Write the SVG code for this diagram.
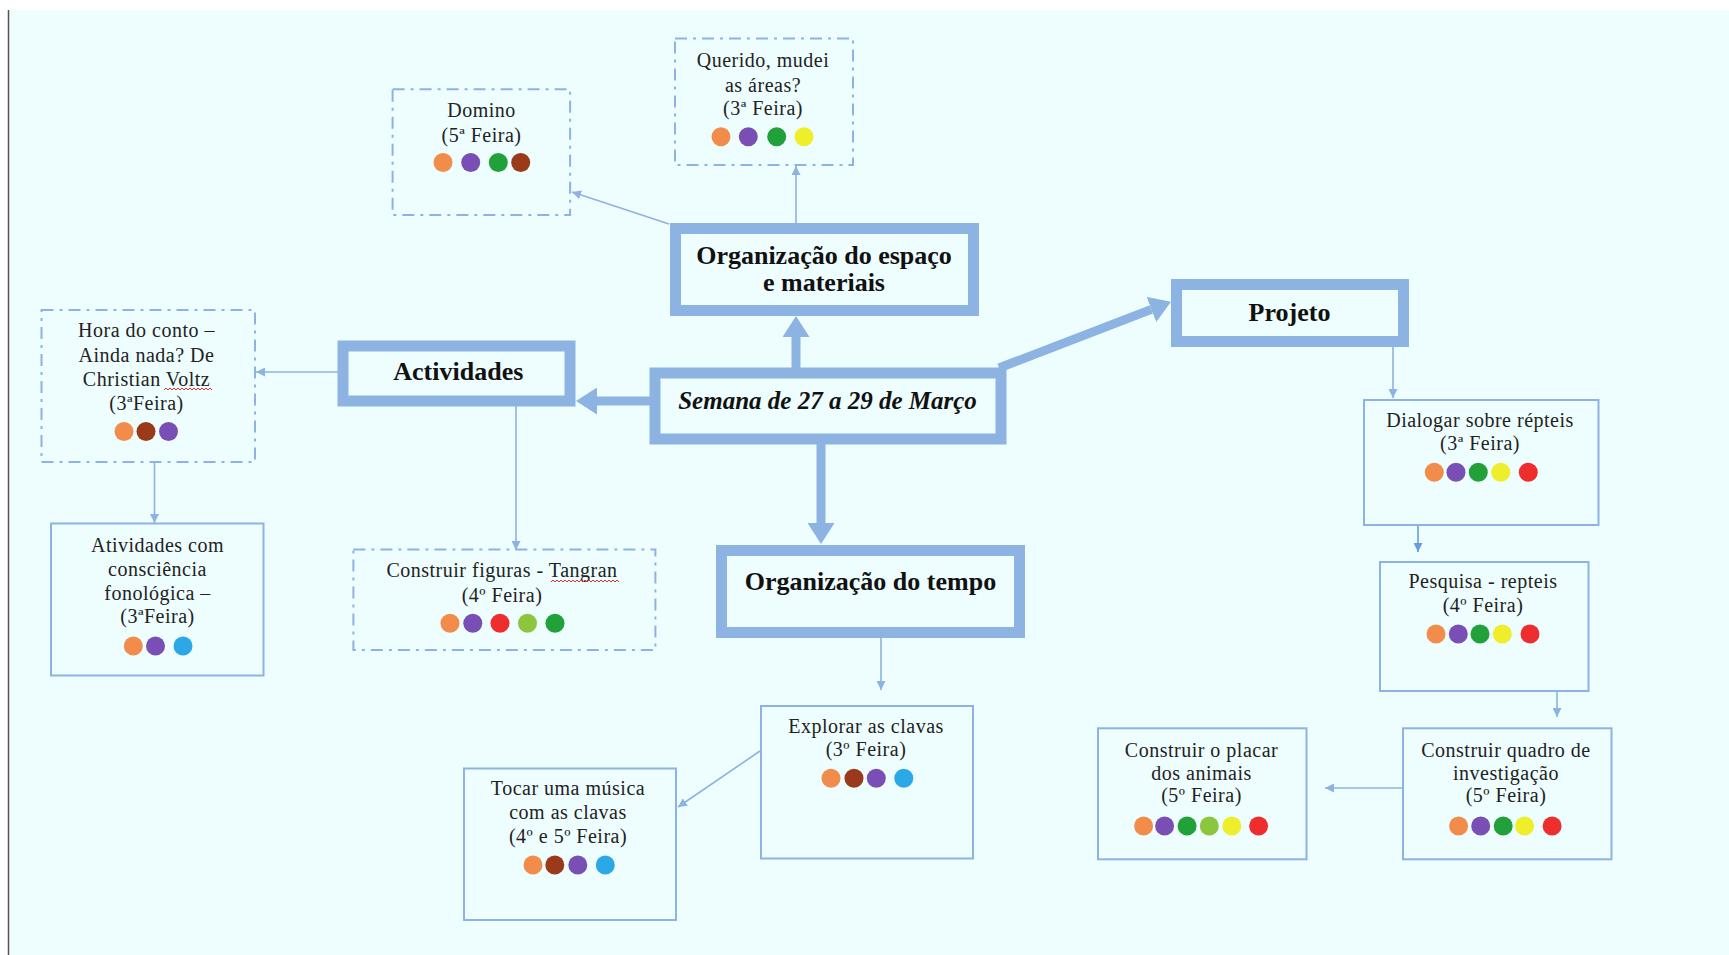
<svg xmlns="http://www.w3.org/2000/svg" width="1729" height="955" viewBox="0 0 1729 955">
<defs>
<style>
.t{font-family:"Liberation Serif","Times New Roman",serif;font-size:20px;fill:#222;text-anchor:middle;letter-spacing:0.5px}
.b{font-family:"Liberation Serif","Times New Roman",serif;font-size:26px;font-weight:bold;fill:#111;text-anchor:middle}
.bi{font-style:italic;font-size:25px}
.thick{fill:none;stroke:#8DB3E2;stroke-width:11}
.dd{fill:none;stroke:#8DB3E2;stroke-width:2;stroke-dasharray:12 6 3 6}
.sol{fill:none;stroke:#8DB3E2;stroke-width:2}
.cn{fill:none;stroke:#8DB3E2;stroke-width:1.6}
.ck{fill:none;stroke:#8DB3E2;stroke-width:9}
.sq{fill:none;stroke:#E03030;stroke-width:1}
.o{fill:#F28C4A}.p{fill:#7A4FB5}.g{fill:#22A03A}.br{fill:#9A3A1A}.y{fill:#EEEE2A}.r{fill:#EE2E2E}.lg{fill:#8CC63F}.bl{fill:#2AA9E6}
</style>
<marker id="ah" viewBox="0 0 10 10" refX="10" refY="5" markerWidth="9" markerHeight="9" markerUnits="userSpaceOnUse" orient="auto"><path d="M0,0 L10,5 L0,10 z" fill="#8DB3E2"/></marker>
<marker id="ahd" viewBox="0 0 10 10" refX="10" refY="5" markerWidth="9" markerHeight="9" markerUnits="userSpaceOnUse" orient="auto"><path d="M0,0 L10,5 L0,10 z" fill="#6A9BDB"/></marker>
<marker id="big" viewBox="0 0 10 10" refX="0" refY="5" markerWidth="21" markerHeight="27" markerUnits="userSpaceOnUse" orient="auto" preserveAspectRatio="none"><path d="M0,0 L10,5 L0,10 z" fill="#8DB3E2"/></marker>
</defs>
<rect x="0" y="0" width="1729" height="955" fill="#ffffff"/>
<rect x="9" y="10" width="1720" height="945" fill="#EEFDFE"/>
<line x1="8.5" y1="10" x2="8.5" y2="955" stroke="#555" stroke-width="1.5"/>

<g id="connectors">
<line class="ck" x1="796" y1="368" x2="796" y2="337" marker-end="url(#big)"/>
<line class="ck" x1="650" y1="401" x2="597" y2="401" marker-end="url(#big)"/>
<line class="ck" x1="821" y1="444" x2="821" y2="523" marker-end="url(#big)"/>
<line class="ck" x1="999" y1="368" x2="1151.4" y2="309.4" marker-end="url(#big)"/>
<line class="cn" x1="669" y1="224" x2="572" y2="192" marker-end="url(#ah)"/>
<line class="cn" x1="796" y1="223" x2="796" y2="166" marker-end="url(#ah)"/>
<line class="cn" x1="338" y1="372" x2="256" y2="372" marker-end="url(#ah)"/>
<line class="cn" x1="154.5" y1="462" x2="154.5" y2="523" marker-end="url(#ah)"/>
<line class="cn" x1="516" y1="406" x2="516" y2="550" marker-end="url(#ah)"/>
<line class="cn" x1="881" y1="638" x2="881" y2="690" marker-end="url(#ah)"/>
<line class="cn" x1="760" y1="751" x2="678" y2="807" marker-end="url(#ah)"/>
<line class="cn" x1="1393" y1="347" x2="1393" y2="398" marker-end="url(#ah)"/>
<line x1="1418" y1="525" x2="1418" y2="552" stroke="#6A9BDB" stroke-width="1.6" marker-end="url(#ahd)"/>
<line class="cn" x1="1557" y1="691" x2="1557" y2="717" marker-end="url(#ah)"/>
<line class="cn" x1="1403" y1="788" x2="1325" y2="788" marker-end="url(#ah)"/>
</g>

<g id="semana">
<rect class="thick" x="655" y="373" width="346" height="66" stroke-width="12"/>
<text class="b bi" x="827.5" y="409.3">Semana de 27 a 29 de Março</text>
</g>

<g id="org-espaco">
<rect class="thick" x="675.5" y="228.5" width="298" height="82"/>
<text class="b" x="824" y="264.3">Organização do espaço</text>
<text class="b" x="824" y="291">e materiais</text>
</g>

<g id="actividades">
<rect class="thick" x="343" y="346" width="227" height="55"/>
<text class="b" x="458.3" y="380">Actividades</text>
</g>

<g id="projeto">
<rect class="thick" x="1176.5" y="284.5" width="227" height="57"/>
<text class="b" x="1289.5" y="320.7">Projeto</text>
</g>

<g id="org-tempo">
<rect class="thick" x="721.5" y="550.5" width="298" height="82"/>
<text class="b" x="870.5" y="590">Organização do tempo</text>
</g>

<g id="domino">
<rect class="dd" x="392.6" y="89.3" width="177.5" height="125.7"/>
<text class="t" x="481.5" y="117">Domino</text>
<text class="t" x="481.5" y="141.5">(5ª Feira)</text>
<circle class="o" cx="443" cy="162.5" r="9.5"/><circle class="p" cx="470.7" cy="162.5" r="9.5"/><circle class="g" cx="498.3" cy="162.5" r="9.5"/><circle class="br" cx="520.7" cy="162.5" r="9.5"/>
</g>

<g id="querido">
<rect class="dd" x="675" y="38.5" width="178" height="126.5"/>
<text class="t" x="763" y="66.7">Querido, mudei</text>
<text class="t" x="763" y="91.5">as áreas?</text>
<text class="t" x="763" y="115">(3ª Feira)</text>
<circle class="o" cx="721" cy="136.7" r="9.5"/><circle class="p" cx="748.3" cy="136.7" r="9.5"/><circle class="g" cx="776.7" cy="136.7" r="9.5"/><circle class="y" cx="804" cy="136.7" r="9.5"/>
</g>

<g id="hora-conto">
<rect class="dd" x="41.5" y="310" width="213.5" height="152"/>
<text class="t" x="146.5" y="337.3">Hora do conto –</text>
<text class="t" x="146.5" y="361.7">Ainda nada? De</text>
<text class="t" x="146.5" y="385.5">Christian Voltz</text>
<polyline class="sq" points="164,390 166,388 168,390 170,388 172,390 174,388 176,390 178,388 180,390 182,388 184,390 186,388 188,390 190,388 192,390 194,388 196,390 198,388 200,390 202,388 204,390 206,388 208,390 210,388 212,390"/>
<text class="t" x="146.5" y="410">(3ªFeira)</text>
<circle class="o" cx="124" cy="431.5" r="9.5"/><circle class="br" cx="146" cy="431.5" r="9.5"/><circle class="p" cx="168.5" cy="431.5" r="9.5"/>
</g>

<g id="atividades-consciencia">
<rect class="sol" x="51" y="523.5" width="212.5" height="152"/>
<text class="t" x="157.5" y="551.7">Atividades com</text>
<text class="t" x="157.5" y="576">consciência</text>
<text class="t" x="157.5" y="600">fonológica –</text>
<text class="t" x="157.5" y="623.3">(3ªFeira)</text>
<circle class="o" cx="133.3" cy="646" r="9.5"/><circle class="p" cx="155.5" cy="646" r="9.5"/><circle class="bl" cx="183" cy="646" r="9.5"/>
</g>

<g id="construir-figuras">
<rect class="dd" x="353.4" y="549.5" width="302" height="100.5"/>
<text class="t" x="502" y="577.3">Construir figuras - Tangran</text>
<polyline class="sq" points="551,582 553,580 555,582 557,580 559,582 561,580 563,582 565,580 567,582 569,580 571,582 573,580 575,582 577,580 579,582 581,580 583,582 585,580 587,582 589,580 591,582 593,580 595,582 597,580 599,582 601,580 603,582 605,580 607,582 609,580 611,582 613,580 615,582 617,580 619,582"/>
<text class="t" x="502" y="601.5">(4º Feira)</text>
<circle class="o" cx="450" cy="623.3" r="9.5"/><circle class="p" cx="472.8" cy="623.3" r="9.5"/><circle class="r" cx="500" cy="623.3" r="9.5"/><circle class="lg" cx="527.5" cy="623.3" r="9.5"/><circle class="g" cx="555" cy="623.3" r="9.5"/>
</g>

<g id="explorar">
<rect class="sol" x="761" y="706" width="212" height="152.5"/>
<text class="t" x="866" y="732.7">Explorar as clavas</text>
<text class="t" x="866" y="756">(3º Feira)</text>
<circle class="o" cx="831" cy="778.3" r="9.5"/><circle class="br" cx="854" cy="778.3" r="9.5"/><circle class="p" cx="876.3" cy="778.3" r="9.5"/><circle class="bl" cx="903.8" cy="778.3" r="9.5"/>
</g>

<g id="tocar">
<rect class="sol" x="464" y="768.5" width="212" height="151.5"/>
<text class="t" x="568" y="795">Tocar uma música</text>
<text class="t" x="568" y="819.3">com as clavas</text>
<text class="t" x="568" y="842.7">(4º e 5º Feira)</text>
<circle class="o" cx="533" cy="865" r="9.5"/><circle class="br" cx="554.8" cy="865" r="9.5"/><circle class="p" cx="577.8" cy="865" r="9.5"/><circle class="bl" cx="605.3" cy="865" r="9.5"/>
</g>

<g id="dialogar">
<rect class="sol" x="1364" y="400" width="234.5" height="125"/>
<text class="t" x="1480" y="426.7">Dialogar sobre répteis</text>
<text class="t" x="1480" y="450">(3ª Feira)</text>
<circle class="o" cx="1434.3" cy="472.3" r="9.5"/><circle class="p" cx="1456" cy="472.3" r="9.5"/><circle class="g" cx="1478.3" cy="472.3" r="9.5"/><circle class="y" cx="1500.7" cy="472.3" r="9.5"/><circle class="r" cx="1528.3" cy="472.3" r="9.5"/>
</g>

<g id="pesquisa">
<rect class="sol" x="1380" y="562" width="208.5" height="129"/>
<text class="t" x="1483" y="588.3">Pesquisa - repteis</text>
<text class="t" x="1483" y="611.7">(4º Feira)</text>
<circle class="o" cx="1436" cy="634" r="9.5"/><circle class="p" cx="1458.3" cy="634" r="9.5"/><circle class="g" cx="1480" cy="634" r="9.5"/><circle class="y" cx="1502.3" cy="634" r="9.5"/><circle class="r" cx="1530" cy="634" r="9.5"/>
</g>

<g id="quadro">
<rect class="sol" x="1403" y="728.3" width="208.5" height="131"/>
<text class="t" x="1506" y="757.3">Construir quadro de</text>
<text class="t" x="1506" y="780">investigação</text>
<text class="t" x="1506" y="801.7">(5º Feira)</text>
<circle class="o" cx="1458.6" cy="826" r="9.5"/><circle class="p" cx="1480.7" cy="826" r="9.5"/><circle class="g" cx="1503.2" cy="826" r="9.5"/><circle class="y" cx="1524.6" cy="826" r="9.5"/><circle class="r" cx="1552.1" cy="826" r="9.5"/>
</g>

<g id="placar">
<rect class="sol" x="1098" y="728.3" width="208.5" height="131"/>
<text class="t" x="1201.5" y="757.3">Construir o placar</text>
<text class="t" x="1201.5" y="780">dos animais</text>
<text class="t" x="1201.5" y="801.7">(5º Feira)</text>
<circle class="o" cx="1143.6" cy="826" r="9.5"/><circle class="p" cx="1164.6" cy="826" r="9.5"/><circle class="g" cx="1187.1" cy="826" r="9.5"/><circle class="lg" cx="1209.3" cy="826" r="9.5"/><circle class="y" cx="1231.8" cy="826" r="9.5"/><circle class="r" cx="1258.6" cy="826" r="9.5"/>
</g>
</svg>
